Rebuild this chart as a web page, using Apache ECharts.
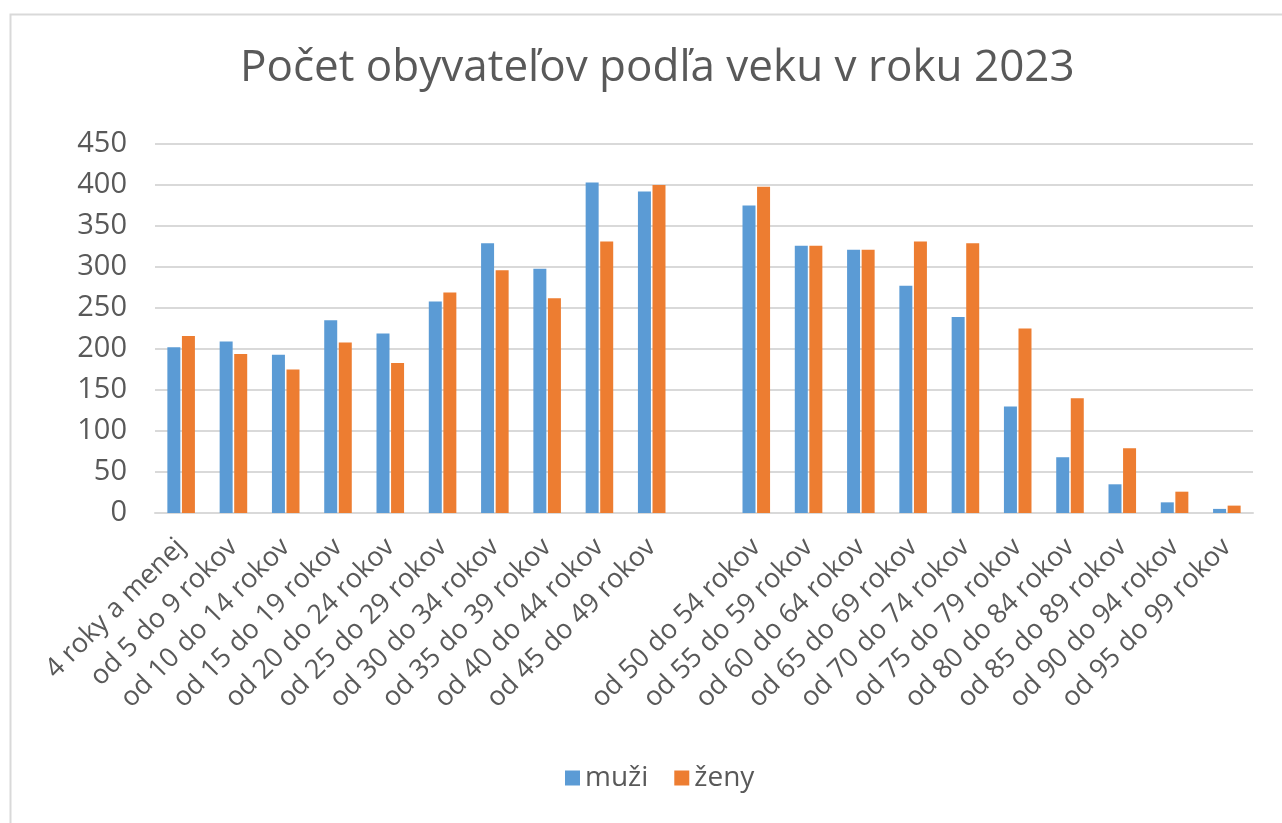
<!DOCTYPE html>
<html>
<head>
<meta charset="utf-8">
<script src="https://cdn.jsdelivr.net/npm/echarts@6/dist/echarts.min.js"></script>
<style>
html,body{margin:0;padding:0;background:#fff;}
#chart{width:1282px;height:823px;}
</style>
</head>
<body>
<div id="chart"></div>
<script>
const categories = [
  '4 roky a menej','od 5 do 9 rokov','od 10 do 14 rokov','od 15 do 19 rokov',
  'od 20 do 24 rokov','od 25 do 29 rokov','od 30 do 34 rokov','od 35 do 39 rokov',
  'od 40 do 44 rokov','od 45 do 49 rokov','',
  'od 50 do 54 rokov','od 55 do 59 rokov','od 60 do 64 rokov','od 65 do 69 rokov',
  'od 70 do 74 rokov','od 75 do 79 rokov','od 80 do 84 rokov','od 85 do 89 rokov',
  'od 90 do 94 rokov','od 95 do 99 rokov'
];
const muzi = [202,209,193,235,219,258,329,298,403,392,null,375,326,321,277,239,130,68,35,13,5];
const zeny = [216,194,175,208,183,269,296,262,331,400,null,398,326,321,331,329,225,140,79,26,9];
const seriesNames = ['muži','ženy'];
const titleText = 'Počet obyvateľov podľa veku v roku 2023';

const FONT = '"Open Sans", sans-serif';
const TXT = '#595959';
const chart = echarts.init(document.getElementById('chart'));
chart.setOption({
  animation: false,
  backgroundColor: '#fff',
  graphic: [{
    type: 'rect', left: 8, top: 12,
    shape: {width: 1300, height: 840},
    style: {fill: 'none', stroke: '#d9d9d9', lineWidth: 2}
  }],
  title: {
    text: titleText, left: 235, top: 41,
    textStyle: {fontFamily: FONT, fontSize: 44, fontWeight: 'normal', color: TXT}
  },
  legend: {
    data: seriesNames, bottom: 26, left: 560,
    icon: 'rect', itemWidth: 15, itemHeight: 15, itemGap: 26, itemTextGap: 8,
    textStyle: {fontFamily: FONT, fontSize: 28, color: TXT}
  },
  grid: {left: 155, right: 29, top: 144, bottom: 310, containLabel: false},
  xAxis: {
    type: 'category', data: categories,
    axisLine: {lineStyle: {color: '#d9d9d9', width: 2}},
    axisTick: {show: false},
    axisLabel: {rotate: 45, interval: 0, margin: 30, fontFamily: FONT, fontSize: 27, color: TXT}
  },
  yAxis: {
    type: 'value', min: 0, max: 450, interval: 50,
    axisLine: {show: false}, axisTick: {show: false},
    axisLabel: {margin: 28, fontFamily: FONT, fontSize: 29, color: TXT},
    splitLine: {lineStyle: {color: '#d9d9d9', width: 2}}
  },
  series: [
    {name: seriesNames[0], type: 'bar', data: muzi, barWidth: 13, barGap: '12%', itemStyle: {color: '#5B9BD5'}},
    {name: seriesNames[1], type: 'bar', data: zeny, barWidth: 13, barGap: '12%', itemStyle: {color: '#ED7D31'}}
  ]
});
</script>
</body>
</html>
